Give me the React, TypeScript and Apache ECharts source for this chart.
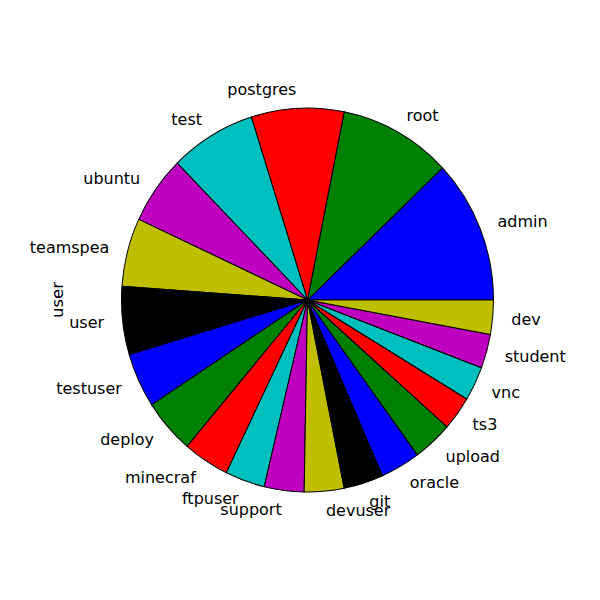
import React, { useEffect, useRef } from "react";
import * as echarts from "echarts";

const categories = [
  "admin", "root", "postgres", "test", "ubuntu", "teamspea", "user",
  "testuser", "deploy", "minecraf", "ftpuser", "support", "devuser", "git",
  "oracle", "upload", "ts3", "vnc", "student", "dev",
];
const counts = [21, 17, 14, 13, 10, 10, 10, 8, 8, 7, 6, 6, 6, 6, 6, 6, 5, 5, 5, 5];
const palette = ["#0000ff", "#008000", "#ff0000", "#00bfbf", "#bf00bf", "#bfbf00", "#000000"];
const yAxisLabel = "user";

const FONT = "DejaVu Sans";
const FONT_SIZE = 16;

export default function App() {
  const ref = useRef<HTMLDivElement>(null);
  useEffect(() => {
    const chart = echarts.init(ref.current!, null, { renderer: "svg" });
    chart.setOption({
      animation: false,
      color: palette,
      graphic: [
        {
          type: "text",
          x: 57.5,
          y: 300,
          rotation: Math.PI / 2,
          style: {
            text: yAxisLabel,
            fontSize: FONT_SIZE,
            fontFamily: FONT,
            fill: "#000",
            align: "center",
            verticalAlign: "middle",
          },
        },
      ],
      series: [
        {
          type: "pie",
          center: [307.5, 300],
          radius: 186,
          startAngle: 0,
          clockwise: false,
          avoidLabelOverlap: false,
          data: categories.map((n, i) => ({ name: n, value: counts[i] })),
          itemStyle: { borderColor: "#000", borderWidth: 1 },
          label: {
            show: true,
            position: "outside",
            alignTo: "none",
            distanceToLabelLine: 0,
            fontSize: FONT_SIZE,
            fontFamily: FONT,
            color: "#000",
            formatter: "{b}",
          },
          labelLayout: { hideOverlap: false, moveOverlap: null },
          labelLine: { show: false, length: 18.6, length2: 0 },
          emphasis: { disabled: true },
        },
      ],
    });
    return () => chart.dispose();
  }, []);
  return (
    <div
      ref={ref}
      style={{
        position: "absolute",
        left: 0,
        top: 0,
        width: 600,
        height: 600,
        transform: `scaleY(${192 / 186})`,
        transformOrigin: "307.5px 300px",
      }}
    />
  );
}
